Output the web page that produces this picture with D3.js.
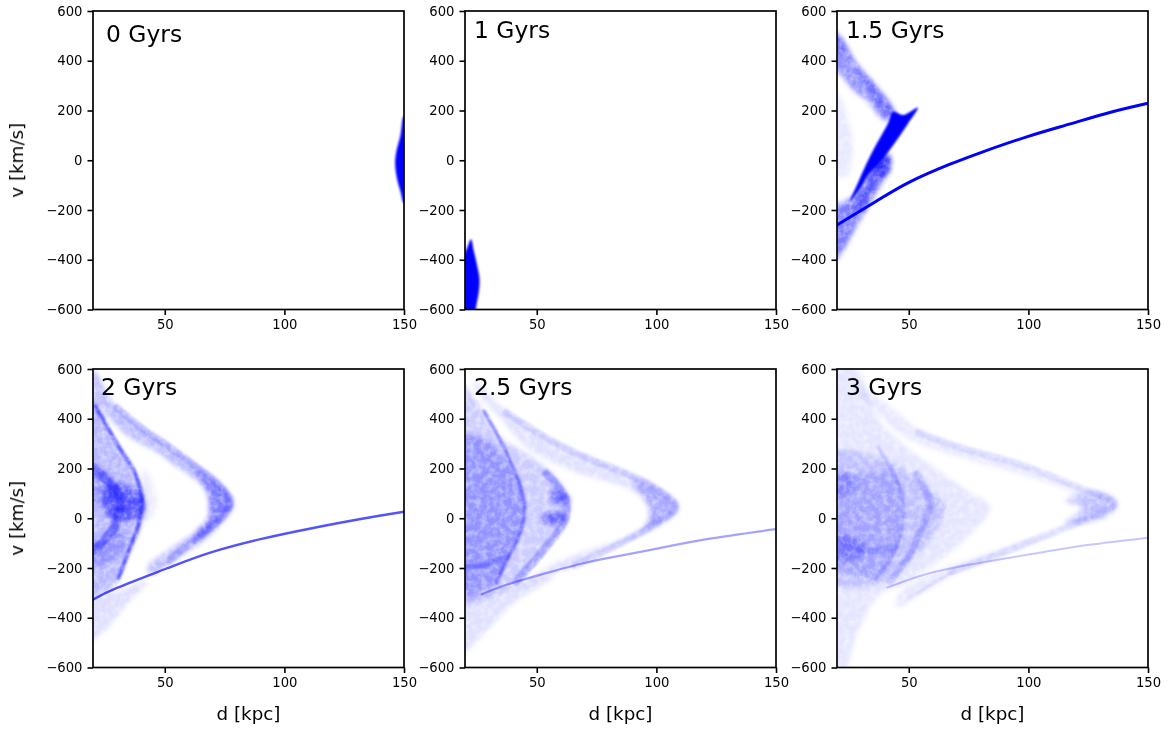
<!DOCTYPE html>
<html><head><meta charset="utf-8">
<script src="https://cdn.jsdelivr.net/npm/d3@7"></script>
<style>html,body{margin:0;background:#fff}svg{display:block}text{font-family:"DejaVu Sans",sans-serif;fill:#000}</style>
</head><body><svg id="c" width="1174" height="731"></svg>
<script>
// ---- data, all in (d [kpc], v [km/s]) ----
const titles = ["0 Gyrs","1 Gyrs","1.5 Gyrs","2 Gyrs","2.5 Gyrs","3 Gyrs"];
const xTicks = [50,100,150];
const yTicks = [-600,-400,-200,0,200,400,600];

// satellite tail ("stream") ridge per snapshot
const stream15 = [[20,-260],[36.4,-165],[50.3,-88],[67,-17],[81,34],[99.3,94],[117.5,146],[134,192],[150,229]];
const stream20 = [[20,-327],[30,-280],[51,-201],[69,-138],[90,-84],[111,-41],[131.9,-3],[150,26]];
const stream25 = [[26.7,-307],[40,-259],[58,-210],[68,-184],[79,-161],[98.7,-125],[121,-84],[150,-44]];
const stream30 = [[40.7,-280],[54.7,-232],[68.7,-199],[85.5,-170],[102,-143],[124.6,-108],[150,-78]];
const streamDensity = [null,null,1,0.68,0.36,0.22];

// outlines of density regions
const regions00 = [[[150,178],[148.5,100],[146.7,30],[146.3,-15],[147,-70],[148.5,-125],[150,-172],[156,0]]];
const density00 = [1];
const regions10 = [[[22.5,-318],[21,-350],[19,-400],[19,-620],[23.5,-620],[25,-570],[26,-510],[26,-470],[25,-420],[23.7,-365]]];
const density10 = [1];
const regions15 = [
 [[14,540],[20,510],[28,389],[36.4,296],[44,188],[39.9,161],[32.2,242],[26.6,282],[20,356],[14,356]],
 [[14,510],[20,510],[28,389],[36.4,296],[44,188],[41,175],[33,290],[24,420],[14,470]],
 [[14,269],[20,269],[25,148],[26.6,41],[23.8,-67],[14,-26]],
 [[37.8,27],[42,21],[42,-40],[37.8,-107],[32.2,-201],[28,-268],[20,-395],[14,-420],[14,-214],[26.6,-147],[32.2,-66]],
 [[38.5,14],[42,14],[41.7,-40],[38.5,-66],[35,-40]],
 [[36,-30],[40,-30],[36,-110],[30,-210],[27,-190],[31,-110]],
 [[53.8,212],[47.6,182],[43.4,195],[41.3,148],[36.5,65],[32.5,-10],[29,-85],[25.5,-165],[30,-110],[33,-60],[38,-8],[42.5,47],[49.7,148]]
];
const density15 = [0.42,0.34,0.09,0.5,0.55,0.3,1];
const regionSoft15 = [1,1,1,1,1,1,0];
const regions20 = [
 [[20.3,596],[28.6,461],[38.4,374],[48.2,313],[62.1,219],[71.9,151],[78.9,60],[74.7,-10],[67.7,-78],[57.9,-145],[49.6,-201],[44,-226],[42.6,-199],[55.1,-105],[64.9,-37],[68.4,17],[69.1,71],[64.9,138],[55.1,205],[45.4,273],[34.2,333],[24.5,434],[20.3,502]],
 [[62.1,192],[71.9,138],[78.2,60],[71.9,-24],[62.1,-98],[63.5,-51],[69.1,3],[68.4,44],[67.7,111]],
 [[12,488],[20,488],[28.6,313],[37,192],[41.2,71],[39.8,-37],[34.2,-158],[29.3,-266],[20.3,-307],[12,-307]],
 [[41.2,205],[46.8,57],[41.2,-24]],
 [[12,-327],[12,-522],[24.5,-455],[34.2,-347],[42.6,-253],[30,-293]],
 [[26,130],[34,130],[41,90],[41,20],[34,-10],[26,10],[24,70]],
 [[12,220],[24,190],[32,130],[26,60],[12,100]],
 [[12,-120],[24,-80],[30,-20],[34,-100],[28,-170],[12,-200]]
];
const density20 = [0.26,0.34,0.28,0.08,0.13,0.5,0.22,0.2];
const regionSoft20 = [1,1,1,1,1,1,1,1];
const regions25 = [
 [[23.2,556],[37.2,434],[51.2,340],[68,259],[86.2,192],[98.7,131],[109.2,44],[101.5,-24],[91.7,-78],[79.2,-131],[65.2,-199],[56.8,-226],[41.4,-280],[54,-200],[68,-140],[85,-85],[96,-30],[97,40],[90,110],[65,190],[45.6,286],[34.4,407],[27.4,475]],
 [[90,150],[98.7,131],[109.2,44],[101.5,-24],[88,-80],[95,-35],[97,40]],
 [[12,600],[24.6,475],[33,340],[45.6,259],[56.8,178],[63.8,71],[61.7,-24],[52.6,-131],[41.4,-253],[33,-307],[12,-334]],
 [[12,300],[26,330],[35.8,250],[42.8,138],[44.9,44],[42.8,-64],[37.2,-172],[32.3,-266],[12,-300]],
 [[12,-334],[12,-600],[27.4,-468],[41.4,-334],[56.8,-239],[41.4,-262],[33,-290]],
 [[56,110],[62,95],[64,70],[60,55],[56,70]],
 [[54,20],[61,20],[62,-5],[57,-25],[52,-10]]
];
const density25 = [0.12,0.24,0.2,0.28,0.12,0.45,0.5];
const regionSoft25 = [1,1,1,1,1,1,1];
const regions30 = [
 [[28,530],[40.7,461],[54.7,353],[72.9,286],[96.6,219],[121.8,124],[131.6,98],[137.2,57],[131.6,3],[117.6,-37],[99.4,-111],[82.7,-172],[68.7,-226],[58.9,-280],[44.9,-360],[46,-300],[60,-220],[80,-150],[99,-90],[118,-20],[123.2,44],[119,98],[96.6,178],[68.7,253],[46.3,340]],
 [[115,70],[130,105],[137.2,57],[131.6,3],[115,-20],[122,40]],
 [[12,610],[28.1,600],[36.5,407],[49.1,286],[64.5,178],[74.3,111],[84.1,44],[75.7,-64],[64.5,-158],[47.7,-266],[37.9,-307],[26.7,-509],[23.9,-600],[12,-600]],
 [[12,260],[40.7,232],[54.7,151],[65.2,44],[60.3,-64],[49.1,-185],[36.5,-266],[12,-239]],
 [[12,178],[28.1,178],[43.5,178],[47.7,30],[44.9,-118],[36.5,-239],[22.5,-212],[12,-158]],
 [[12,178],[26,178],[28,110],[25,95],[12,95]],
 [[12,-64],[28.1,-78],[33,-125],[28.1,-165],[12,-158]]
];
const density30 = [0.09,0.18,0.1,0.16,0.15,0.18,0.24];
const regionSoft30 = [1,1,1,1,1,1,1];

// brighter ridge lines (caustics) inside the regions
const ridges20 = [
 [[21,450],[30,300],[37.7,178],[40.5,71],[39.1,-24],[34.9,-131],[30.7,-239]],
 [[20,205],[28.6,124],[31.4,71],[29.3,-24],[24.5,-91],[20,-131]],
 [[27,68],[41,68]],[[27,38],[41,38]],[[28,0],[41,0]],
 [[30,445],[40,365],[50,300],[62,215],[72,140],[77.5,65],[72,-15],[62,-90],[52,-170]]
];
const ridgeDensity20 = [0.56,0.4,0.2,0.2,0.14,0.22];
const ridges25 = [
 [[28,430],[36,290],[42.8,138],[44.9,44],[42.8,-64],[37.2,-172],[33,-260]],
 [[54,180],[61.7,84],[62,0],[52.6,-131],[41.4,-253]],
 [[20,-199],[28.8,-185],[37.2,-158]],
 [[37,425],[52,335],[68,255],[86,185],[99,125],[108,46],[98,-30],[82,-115],[66,-190]]
];
const ridgeDensity25 = [0.42,0.3,0.24,0.14];
const ridges30 = [
 [[37.2,286],[46.3,120],[47.7,10],[44.2,-128],[36.5,-245]],
 [[53.3,178],[58.9,57],[56.1,-24],[50.5,-145],[42.1,-253]],
 [[20,-110],[35,-130],[44,-120]],
 [[50,-320],[58,-275],[68.7,-215]],
 [[54,345],[73,280],[97,215],[122,120],[136,60],[120,-20],[99,-100],[82,-165],[68,-215]]
];
const ridgeDensity30 = [0.18,0.2,0.16,0.1,0.1];

const snapshots = [
 {regions:regions00,density:density00,soft:[0],ridges:[],ridgeDensity:[],stream:null},
 {regions:regions10,density:density10,soft:[0],ridges:[],ridgeDensity:[],stream:null},
 {regions:regions15,density:density15,soft:regionSoft15,ridges:[],ridgeDensity:[],stream:stream15},
 {regions:regions20,density:density20,soft:regionSoft20,ridges:ridges20,ridgeDensity:ridgeDensity20,stream:stream20},
 {regions:regions25,density:density25,soft:regionSoft25,ridges:ridges25,ridgeDensity:ridgeDensity25,stream:stream25},
 {regions:regions30,density:density30,soft:regionSoft30,ridges:ridges30,ridgeDensity:ridgeDensity30,stream:stream30}
];

// ---- layout & style ----
const colX=[93,465,837], rowY=[11,369], W=311, H=298.5;
const titlePos=[[13,31],[9,27],[9,27],[8,26],[9,26],[9,26]];
const ridgeWidths=[[],[],[],[4,9,3,3,3,7],[3.5,8,6,7],[4,7,7,3,7]];
const streamWidths=[0,0,3,2.4,2.2,2];
const blue="#0000ff";
const svg=d3.select("#c");
const defs=svg.append("defs");

function addFilter(id,blur,mott,freq,seed){
 const f=defs.append("filter").attr("id",id).attr("filterUnits","userSpaceOnUse")
  .attr("x",0).attr("y",0).attr("width",1174).attr("height",731);
 f.append("feGaussianBlur").attr("stdDeviation",blur).attr("in","SourceGraphic").attr("result","b");
 if(mott){
  f.append("feTurbulence").attr("type","fractalNoise").attr("baseFrequency",freq).attr("numOctaves",3).attr("seed",seed).attr("result","n");
  f.append("feColorMatrix").attr("in","n").attr("type","matrix")
   .attr("values",`0 0 0 0 0  0 0 0 0 0  0 0 0 0 1  0 0 0 ${mott} ${1-mott*0.62}`).attr("result","a");
  f.append("feComposite").attr("in","b").attr("in2","a").attr("operator","in");
 }
}
addFilter("solid",1.3,0);
addFilter("crisp",0.55,0);
addFilter("cloud",2.6,1,0.16,7);
addFilter("edge",1.2,1.1,0.17,23);

const opacity=d3.scaleLinear().domain([0,1]).range([0,1]);
snapshots.forEach((s,i)=>{
 const col=i%3,row=Math.floor(i/3);
 const x=d3.scaleLinear().domain([20,150]).range([colX[col],colX[col]+W]);
 const y=d3.scaleLinear().domain([-600,600]).range([rowY[row]+H,rowY[row]]);
 const clipId="clip"+i;
 defs.append("clipPath").attr("id",clipId).append("rect").attr("x",colX[col]).attr("y",rowY[row]).attr("width",W).attr("height",H);
 const clip=svg.append("g").attr("clip-path",`url(#${clipId})`);
 const closed=d3.line().x(p=>x(p[0])).y(p=>y(p[1])).curve(d3.curveCatmullRomClosed.alpha(0.5));
 const open=d3.line().x(p=>x(p[0])).y(p=>y(p[1])).curve(d3.curveCatmullRom.alpha(0.5));
 const smooth=d3.line().x(p=>x(p[0])).y(p=>y(p[1])).curve(d3.curveNatural);
 clip.selectAll("path.r").data(s.regions).join("path").attr("class","r")
  .attr("d",closed).attr("fill",blue).attr("fill-opacity",(_,k)=>opacity(s.density[k]))
  .attr("filter",(_,k)=>s.soft[k]?"url(#cloud)":"url(#solid)");
 clip.selectAll("path.l").data(s.ridges).join("path").attr("class","l")
  .attr("d",open).attr("fill","none").attr("stroke",blue).attr("stroke-linecap","round")
  .attr("stroke-width",(_,k)=>ridgeWidths[i][k]).attr("stroke-opacity",(_,k)=>opacity(s.ridgeDensity[k]))
  .attr("filter","url(#edge)");
 if(s.stream){
  clip.append("path").datum(s.stream).attr("d",smooth).attr("fill","none").attr("stroke",blue)
   .attr("stroke-width",streamWidths[i]).attr("stroke-opacity",opacity(streamDensity[i])).attr("filter","url(#crisp)");
 }
});
snapshots.forEach((s,i)=>{
 const col=i%3,row=Math.floor(i/3);
 const x=d3.scaleLinear().domain([20,150]).range([colX[col],colX[col]+W]);
 const y=d3.scaleLinear().domain([-600,600]).range([rowY[row]+H,rowY[row]]);
 const top=svg.append("g").attr("opacity",0.999);
 const ax=top.append("g").attr("transform",`translate(0,${rowY[row]+H})`)
  .call(d3.axisBottom(x).tickValues(xTicks).tickSize(5.5).tickPadding(5).tickFormat(d3.format("d")));
 const ay=top.append("g").attr("transform",`translate(${colX[col]},0)`)
  .call(d3.axisLeft(y).tickValues(yTicks).tickSize(5.5).tickPadding(5).tickFormat(d3.format("d")));
 [ax,ay].forEach(a=>{a.selectAll("text").attr("font-size",13.2).attr("font-family",'"DejaVu Sans"');
  a.selectAll("line").attr("stroke","#000").attr("stroke-width",1.6);
  a.select(".domain").remove();});
 top.append("rect").attr("x",colX[col]).attr("y",rowY[row]).attr("width",W).attr("height",H)
  .attr("fill","none").attr("stroke","#000").attr("stroke-width",1.7);
 top.append("text").attr("x",colX[col]+titlePos[i][0]).attr("y",rowY[row]+titlePos[i][1]).attr("font-size",23.4).text(titles[i]);
 if(col===0) top.append("text").attr("transform",`translate(23,${rowY[row]+H/2}) rotate(-90)`).attr("text-anchor","middle").attr("font-size",18.3).text("v [km/s]");
 if(row===1) top.append("text").attr("x",colX[col]+W/2).attr("y",720).attr("text-anchor","middle").attr("font-size",18.3).text("d [kpc]");
});
</script></body></html>
